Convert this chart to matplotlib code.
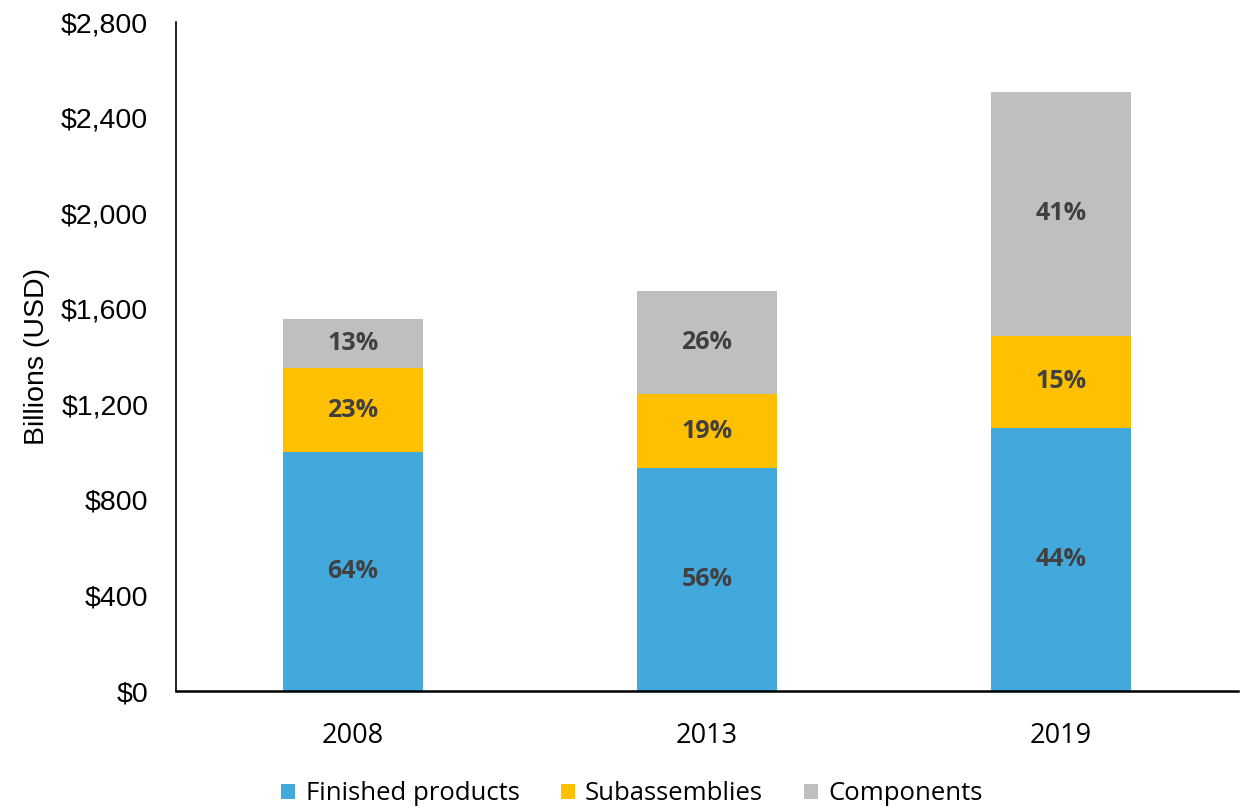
import matplotlib
matplotlib.use("Agg")
import matplotlib.pyplot as plt
import numpy as np

years = ["2008", "2013", "2019"]
finished = [1000, 933, 1101]
subassemblies = [352, 310, 385]
components = [205, 431, 1021]
series_names = ["Finished products", "Subassemblies", "Components"]
colors = ["#43A8DC", "#FFC000", "#BFBFBF"]
yticks = [0, 400, 800, 1200, 1600, 2000, 2400, 2800]

fig = plt.figure(figsize=(12.45, 8.07), dpi=100)
ax = fig.add_axes([176/1245, 1-691/807, (1238-176)/1245, (691-22)/807])

x = np.arange(len(years))
w = 0.398
data = [finished, subassemblies, components]
totals = np.sum(data, axis=0)
bottom = np.zeros(len(years))
handles = []
for vals, name, c in zip(data, series_names, colors):
    vals = np.array(vals, dtype=float)
    b = ax.bar(x, vals, w, bottom=bottom, color=c, label=name, zorder=2)
    handles.append(b)
    for xi, v, bt, t in zip(x, vals, bottom, totals):
        ax.text(xi, bt + v/2, f"{round(100*v/t):.0f}%", ha="center", va="center",
                fontsize=18, fontweight="bold", color="#404040", family="Open Sans")
    bottom += vals

ax.set_xlim(-0.5, 2.5)
ax.set_ylim(0, 2800)
ax.set_yticks(yticks)
ax.set_yticklabels([f"${v:,}" for v in yticks], family="Liberation Sans", fontsize=20.5)
ax.set_xticks(x)
ax.set_xticklabels(years, family="Open Sans", fontsize=19.5)
ax.tick_params(axis="both", length=0)
ax.tick_params(axis="y", pad=20)
ax.tick_params(axis="x", pad=22)
ax.set_ylabel("Billions (USD)", family="Liberation Sans", fontsize=20.5, labelpad=8)
for s in ["top", "right"]:
    ax.spines[s].set_visible(False)
ax.spines["left"].set_linewidth(1.2)
ax.spines["bottom"].set_linewidth(1.8)

leg = fig.legend(handles=handles, labels=series_names, loc="center", bbox_to_anchor=(632/1245, 1-794/807),
                 ncol=3, frameon=False, prop={"family": "Open Sans", "size": 18.5},
                 handlelength=0.55, handleheight=0.55, handletextpad=0.4, columnspacing=1.6)
fig.savefig("out.png", dpi=100)
